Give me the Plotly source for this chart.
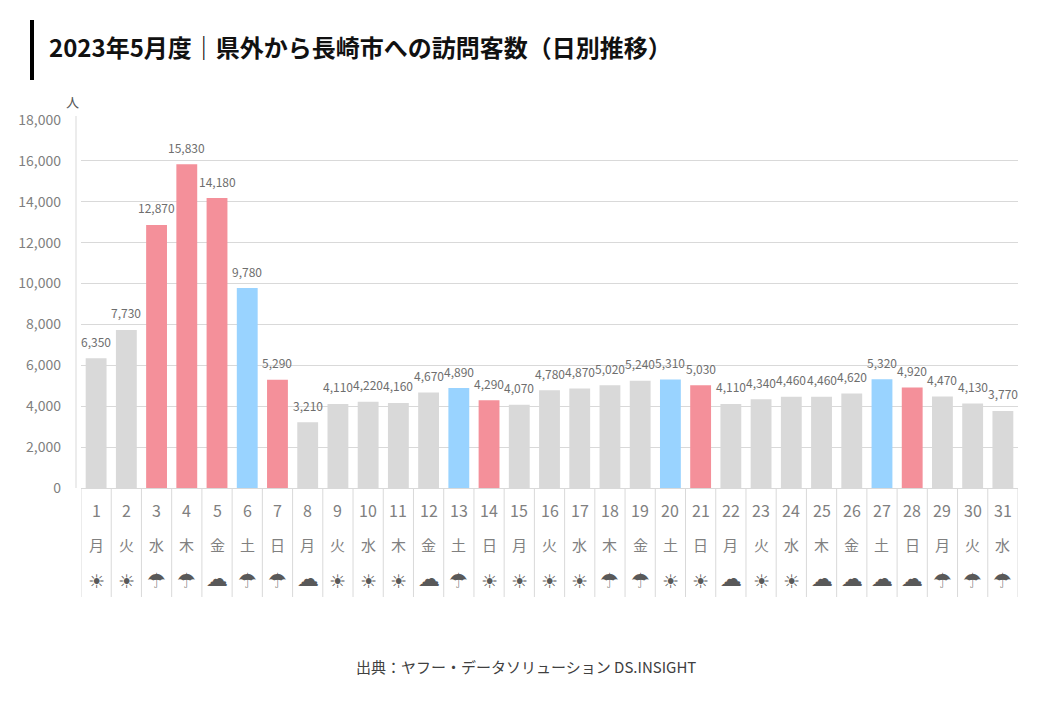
import plotly.graph_objects as go

# data
days = list(range(1, 32))
weekdays = ["月", "火", "水", "木", "金", "土", "日"] * 4 + ["月", "火", "水"]
weather = ["☀", "☀", "☂", "☂", "☁", "☂", "☂", "☁", "☀", "☀", "☀", "☁", "☂", "☀", "☀", "☀",
           "☀", "☂", "☂", "☀", "☀", "☁", "☀", "☀", "☁", "☁", "☁", "☁", "☂", "☂", "☂"]
visitors = [6350, 7730, 12870, 15830, 14180, 9780, 5290, 3210, 4110, 4220, 4160, 4670, 4890, 4290, 4070, 4780,
            4870, 5020, 5240, 5310, 5030, 4110, 4340, 4460, 4460, 4620, 5320, 4920, 4470, 4130, 3770]
holidays = [3, 4, 5]

y_ticks = list(range(0, 18001, 2000))

title = "2023年5月度｜県外から長崎市への訪問客数（日別推移）"
source = "出典：ヤフー・データソリューション DS.INSIGHT"

W, H = 1040, 720
LEFT, RIGHT, TOP, BOTTOM = 81, 1018, 120, 488
JP_FONT = "Noto Sans CJK JP"
ICON_SIZE = {"☀": 19, "☂": 21, "☁": 22}
ICON_SHIFT = {"☀": 0, "☂": 0, "☁": 3}


def px(x):
    return (x - LEFT) / (RIGHT - LEFT)


def py(y):
    return (BOTTOM - y) / (BOTTOM - TOP)


def add_text(x, y, text, font, xref="paper", xanchor="center", **kw):
    fig.add_annotation(x=x, y=y, xref=xref, yref=kw.pop("yref", "paper"), text=text, showarrow=False,
                       xanchor=xanchor, yanchor="middle", font=font, **kw)


colors = []
for d, wd in zip(days, weekdays):
    if wd == "日" or d in holidays:
        colors.append("#F4909A")
    elif wd == "土":
        colors.append("#99D3FF")
    else:
        colors.append("#D9D9D9")

fig = go.Figure()

fig.add_trace(go.Bar(
    x=days,
    y=visitors,
    width=0.69,
    marker=dict(color=colors, line=dict(width=0)),
    showlegend=False,
))

# value labels float a bit above the bars, more than textposition outside gives
for d, v in zip(days, visitors):
    add_text(d, v, f"{v:,}", dict(family=JP_FONT, size=12, color="#6E6E6E"), xref="x", yref="y", yshift=17)

# table under the bars: day, weekday, weather
for d, wd, w in zip(days, weekdays, weather):
    add_text(d, py(510), str(d), dict(family=JP_FONT, size=16, color="#808080"), xref="x")
    add_text(d, py(544), wd, dict(family=JP_FONT, size=15, color="#808080"), xref="x")
    add_text(d, py(581), w, dict(family="DejaVu Sans", size=ICON_SIZE[w], color="#595959"), xref="x",
             yshift=ICON_SHIFT[w])

for d in [0.5] + [i + 0.5 for i in days]:
    fig.add_shape(type="line", x0=d, x1=d, y0=py(BOTTOM), y1=py(597), xref="x", yref="paper",
                  line=dict(color="#D9D9D9", width=1))

# y axis line sits left of the plot area
fig.add_shape(type="line", x0=px(76), x1=px(76), y0=py(BOTTOM), y1=py(116), xref="paper", yref="paper",
              line=dict(color="#D9D9D9", width=1))

# black bar next to the title
fig.add_shape(type="rect", x0=px(30), x1=px(34), y0=py(20), y1=py(80), xref="paper", yref="paper",
              line=dict(width=0), fillcolor="black")

add_text(px(47), py(47), f"<b>{title}</b>", dict(family=JP_FONT, size=24, color="#111111"), xanchor="left")
add_text(px(72.5), py(102), "人", dict(family=JP_FONT, size=13, color="#595959"))
add_text(px(526), py(666), source, dict(family=JP_FONT, size=15, color="#404040"))

fig.update_layout(
    width=W,
    height=H,
    margin=dict(l=LEFT, r=W - RIGHT, t=TOP, b=H - BOTTOM, pad=0),
    paper_bgcolor="white",
    plot_bgcolor="white",
    showlegend=False,
    xaxis=dict(range=[0.5, 31.5], showticklabels=False, showgrid=False, zeroline=False, ticks="",
               showline=False),
    yaxis=dict(range=[0, 18000], tickmode="array", tickvals=y_ticks, ticktext=[f"{t:,}" for t in y_ticks],
               tickfont=dict(family=JP_FONT, size=14, color="#7F7F7F"), ticklabelstandoff=19,
               showgrid=True, gridcolor="#D9D9D9", gridwidth=1, zeroline=True, zerolinecolor="#D9D9D9",
               zerolinewidth=1, showline=False),
)

fig.write_html("out.html", config=dict(displayModeBar=False), post_script="document.body.style.margin='0';")
